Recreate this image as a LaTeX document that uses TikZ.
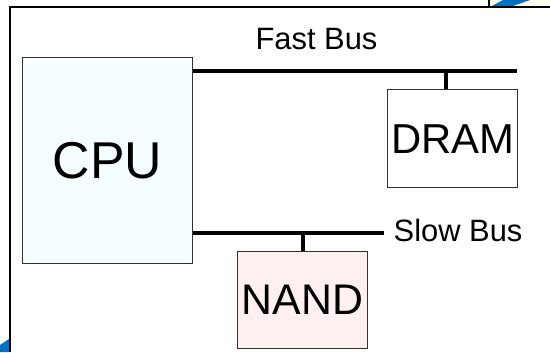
\documentclass[tikz,border=0pt]{standalone}
\usepackage{fontspec}
\setmainfont{Liberation Sans}
\definecolor{cpufill}{HTML}{F5FFFF}
\definecolor{nandfill}{HTML}{FFF0F0}
\definecolor{cornerblue}{HTML}{0070C0}
\definecolor{corneryellow}{HTML}{FFFFEE}
\definecolor{boxline}{HTML}{333333}
\begin{document}
\begin{tikzpicture}[x=1bp,y=-1bp,
  unit/.style={draw=boxline, line width=1.3bp, inner sep=0pt, anchor=north west},
  bus/.style={line width=4bp, line cap=butt},
  frame/.style={line width=2bp},
  buslabel/.style={font=\fontsize{31}{31}\selectfont, inner sep=0pt}]
\useasboundingbox (0,0) rectangle (550,352);
% corner decorations
\fill[corneryellow] (489,0) rectangle (550,7);
\fill[cornerblue] (503,0) -- (530,0) -- (510,7) -- (490,7) -- cycle;
\fill[cornerblue] (0,345) -- (9,339) -- (9,352) -- (0,352) -- cycle;
\draw[line width=1.5bp] (489,0) -- (489,7);
% frame
\draw[frame] (550,7) -- (10,7) -- (10,352);
% units
\node[unit, fill=cpufill, minimum width=170bp, minimum height=206bp,
  font=\fontsize{52}{52}\selectfont] (cpu) at (22,57) {CPU};
\node[unit, fill=white, minimum width=130bp, minimum height=98bp,
  font=\fontsize{42}{42}\selectfont] (dram) at (387,89) {DRAM};
\node[unit, fill=nandfill, minimum width=130bp, minimum height=97bp,
  font=\fontsize{43}{43}\selectfont] (nand) at (237,251) {NAND};
% buses
\coordinate (fastend) at (517,70.5);
\coordinate (slowend) at (384,233);
\draw[bus] (cpu.east |- fastend) -- (fastend);
\draw[bus] (dram.north -| 446,0) -- (446,70.5);
\draw[bus] (cpu.east |- slowend) -- (slowend);
\draw[bus] (nand.north -| 303,0) -- (303,233);
% labels
\node[buslabel, anchor=base] (fastlbl) at (316.5,49) {Fast Bus};
\node[buslabel, anchor=base west] (slowlbl) at (393.5,241) {Slow Bus};
\end{tikzpicture}
\end{document}
